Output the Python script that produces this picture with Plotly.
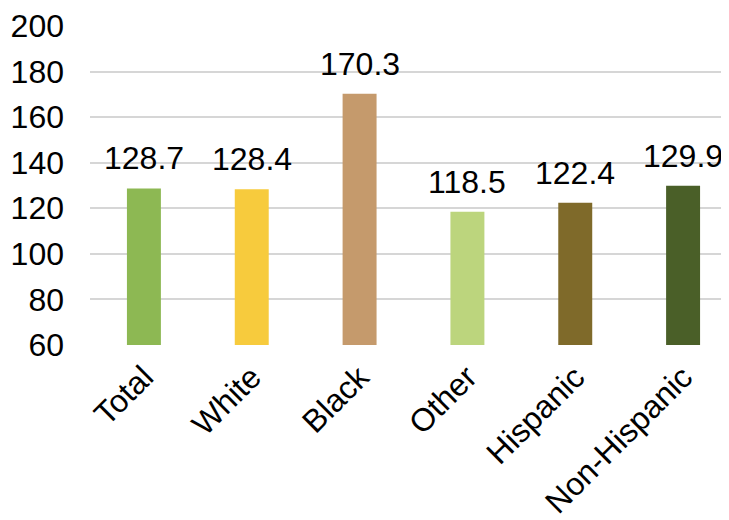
import plotly.graph_objects as go

categories = ["Total", "White", "Black", "Other", "Hispanic", "Non-Hispanic"]
values = [128.7, 128.4, 170.3, 118.5, 122.4, 129.9]
colors = ["#8DB853", "#F7CB3D", "#C59A6C", "#BCD57D", "#7F6A2A", "#4A5F28"]
y_ticks = [60, 80, 100, 120, 140, 160, 180, 200]

FONT = "Liberation Sans, Arial, sans-serif"
FS = 32

fig = go.Figure()
fig.add_trace(go.Bar(
    x=categories, y=values, marker=dict(color=colors, line=dict(width=0)),
    width=0.315, base=0,
))

for c, v in zip(categories, values):
    fig.add_annotation(x=c, y=v, text=f"{v:.1f}", showarrow=False,
                       yanchor="bottom", yshift=10,
                       font=dict(family=FONT, size=FS, color="#000000"))

fig.update_layout(
    width=729, height=520,
    margin=dict(l=82, r=0, t=18, b=183, autoexpand=False),
    paper_bgcolor="white", plot_bgcolor="white",
    showlegend=False,
    font=dict(family=FONT, size=FS, color="#000000"),
)
fig.update_xaxes(
    range=[-0.5, 5.5], tickangle=-45, showgrid=False,
    showline=False, ticks="", tickfont=dict(size=FS, family=FONT),
    ticklabelstandoff=6, automargin=False,
)
fig.update_yaxes(
    range=[60, 200], tickvals=y_ticks, showgrid=True, gridcolor="#D6D6D6",
    gridwidth=1.5, zeroline=False, showline=False, ticks="",
    tickfont=dict(size=FS, family=FONT), ticklabelstandoff=25,
    automargin=False,
)
fig.write_html("out.html")
